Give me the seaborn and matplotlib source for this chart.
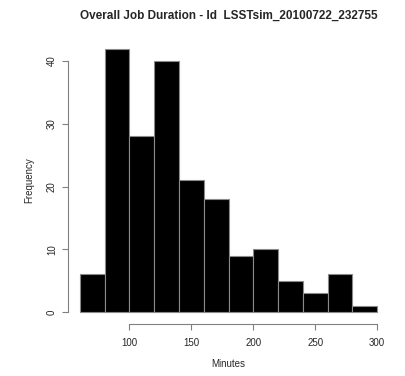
import matplotlib
matplotlib.use('Agg')
import matplotlib.pyplot as plt
import seaborn as sns

# Histogram of job durations (minutes)
bin_edges = [60, 80, 100, 120, 140, 160, 180, 200, 220, 240, 260, 280, 300]
counts = [6, 42, 28, 40, 21, 18, 9, 10, 5, 3, 6, 1]
bin_mids = [(a + b) / 2 for a, b in zip(bin_edges[:-1], bin_edges[1:])]
x_ticks = [100, 150, 200, 250, 300]
y_ticks = [0, 10, 20, 30, 40]

sns.set_style('white')
plt.rcParams['font.family'] = ['Liberation Sans', 'DejaVu Sans']

fig = plt.figure(figsize=(4.05, 3.76), dpi=100)
ax = fig.add_axes([0.168, 0.1423, 0.7926, 0.7566])

sns.histplot(x=bin_mids, weights=counts, bins=bin_edges, ax=ax,
             color='black', alpha=1, edgecolor='#8a8a8a', linewidth=0.8)

# R-like axes: 4% padding, axis lines only spanning the ticks
span_x = bin_edges[-1] - bin_edges[0]
ax.set_xlim(bin_edges[0] - 0.04 * span_x, bin_edges[-1] + 0.04 * span_x)
ymax = max(counts)
ax.set_ylim(-0.04 * ymax, ymax * 1.04)

ax.set_xticks(x_ticks)
ax.set_yticks(y_ticks)
ax.set_yticklabels([str(v) for v in y_ticks], rotation=90, va='center')
for s in ['top', 'right']:
    ax.spines[s].set_visible(False)
ax.spines['bottom'].set_bounds(x_ticks[0], x_ticks[-1])
ax.spines['left'].set_bounds(y_ticks[0], y_ticks[-1])
ax.spines['bottom'].set_position(('outward', 1))
for s in ['bottom', 'left']:
    ax.spines[s].set_color('#808080')
    ax.spines[s].set_linewidth(0.8)
ax.tick_params(axis='both', length=4, width=0.8, color='#808080',
               labelsize=7, direction='out', bottom=True, left=True)
ax.tick_params(axis='x', pad=6)
ax.tick_params(axis='y', pad=4)

ax.set_xlabel('Minutes', fontsize=7, labelpad=8)
ax.set_ylabel('Frequency', fontsize=7, labelpad=9)
ax.set_title('Overall Job Duration - Id  LSSTsim_20100722_232755',
             fontsize=8.5, fontweight='bold', pad=14)

fig.savefig('out.png', dpi=100)
